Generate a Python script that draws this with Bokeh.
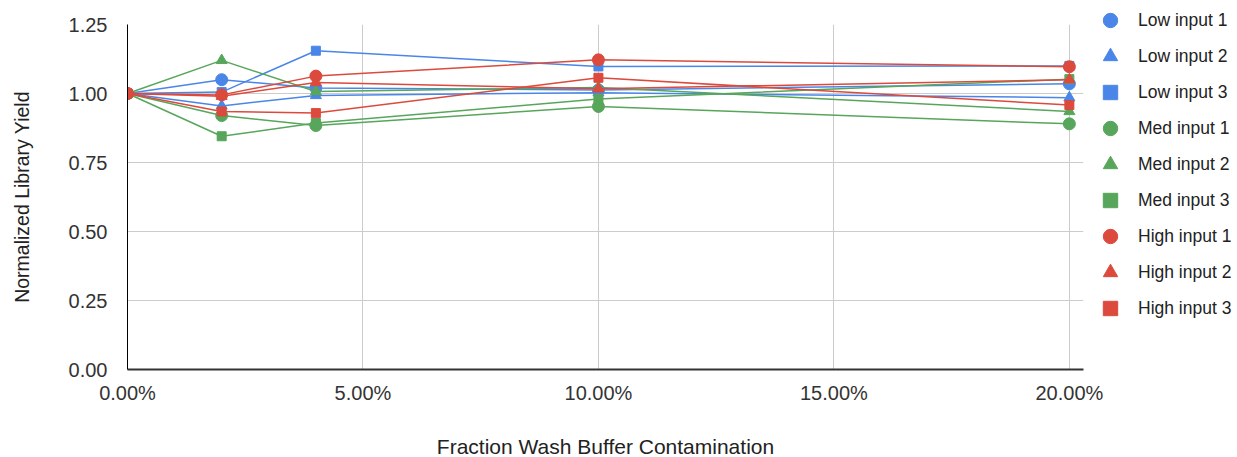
from bokeh.plotting import figure
from bokeh.models import (Legend, LegendItem, NumeralTickFormatter, PrintfTickFormatter,
                          FixedTicker, Range1d)
from bokeh.embed import file_html
from bokeh.resources import INLINE

x = [0.0, 0.02, 0.04, 0.10, 0.20]
low1 = [1.0, 1.05, 1.02, 1.013, 1.035]
low2 = [1.0, 0.955, 0.993, 1.003, 0.985]
low3 = [1.0, 1.005, 1.155, 1.098, 1.10]
med1 = [1.0, 0.92, 0.884, 0.953, 0.89]
med2 = [1.0, 1.12, 1.007, 1.022, 0.935]
med3 = [1.0, 0.845, 0.893, 0.98, 1.052]
high1 = [1.0, 0.995, 1.063, 1.122, 1.097]
high2 = [1.0, 0.99, 1.04, 1.017, 1.05]
high3 = [1.0, 0.935, 0.929, 1.057, 0.958]

names = ["Low input 1", "Low input 2", "Low input 3",
         "Med input 1", "Med input 2", "Med input 3",
         "High input 1", "High input 2", "High input 3"]
series = [low1, low2, low3, med1, med2, med3, high1, high2, high3]
x_ticks = [0.0, 0.05, 0.10, 0.15, 0.20]
y_ticks = [0.0, 0.25, 0.5, 0.75, 1.0, 1.25]

BLUE, GREEN, RED = "#4A86E8", "#57A65B", "#DB4A3C"
colors = [BLUE] * 3 + [GREEN] * 3 + [RED] * 3
markers = ["circle", "triangle", "square"] * 3
msize = {"circle": 12, "triangle": 11, "square": 9}

FONT = "Liberation Sans"

p = figure(width=1237, height=457, output_backend="svg", toolbar_location=None,
           frame_width=956, frame_height=345,
           x_range=Range1d(0, 0.203), y_range=Range1d(0, 1.25),
           min_border_left=127, min_border_top=24, min_border_right=0,
           min_border_bottom=88)
p.outline_line_color = None

items = []
for name, ys, c, m in zip(names, series, colors, markers):
    p.line(x, ys, line_color=c, line_width=1.5)
    r = p.scatter(x, ys, marker=m, size=msize[m], fill_color=c, line_color=c)
    items.append(LegendItem(label=name, renderers=[r]))

legend = Legend(items=items, location=(9, 43), glyph_width=36, glyph_height=36,
                label_height=36, spacing=0, padding=0, margin=0, label_standoff=10,
                label_text_font=FONT, label_text_font_size="17.5px",
                label_text_color="#222222", border_line_color=None,
                background_fill_alpha=0)
p.add_layout(legend, "right")

p.xaxis.ticker = FixedTicker(ticks=x_ticks)
p.yaxis.ticker = FixedTicker(ticks=y_ticks)
p.xaxis.formatter = NumeralTickFormatter(format="0.00%")
p.yaxis.formatter = PrintfTickFormatter(format="%.2f")

p.xgrid.grid_line_color = "#CCCCCC"
p.ygrid.grid_line_color = "#CCCCCC"

for ax in (p.xaxis, p.yaxis):
    ax.major_tick_line_color = None
    ax.minor_tick_line_color = None
    ax.major_tick_out = 0
    ax.major_tick_in = 0
    ax.major_label_text_font = FONT
    ax.major_label_text_font_size = "20px"
    ax.major_label_text_color = "#333333"
    ax.axis_label_text_font = FONT
    ax.axis_label_text_font_size = "21px"
    ax.axis_label_text_font_style = "normal"
    ax.axis_label_text_color = "#222222"

p.yaxis.axis_label_text_font_size = "19.5px"
p.xaxis.axis_line_color = "#333333"
p.xaxis.axis_line_width = 2
p.yaxis.axis_line_color = "#000000"
p.yaxis.axis_line_width = 1
p.xaxis.major_label_standoff = 12
p.yaxis.major_label_standoff = 20
p.xaxis.axis_label = "Fraction Wash Buffer Contamination"
p.yaxis.axis_label = "Normalized Library Yield"
p.xaxis.axis_label_standoff = 28
p.yaxis.axis_label_standoff = 33

open("out.html", "w").write(file_html(p, INLINE))
